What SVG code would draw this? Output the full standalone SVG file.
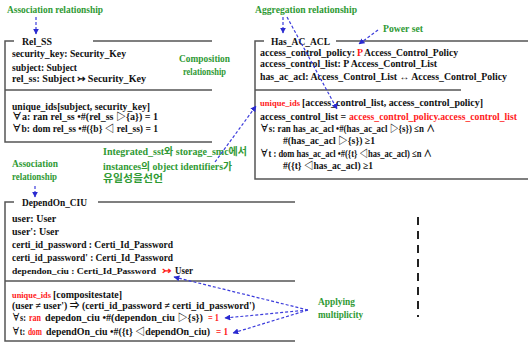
<svg xmlns="http://www.w3.org/2000/svg" width="530" height="346" viewBox="0 0 530 346">
  <style>
    text { font-family: "Liberation Serif", "Times New Roman", "Noto Sans CJK KR", serif; font-weight: bold; font-size: 10px; fill: #111; }
    .title { font-size: 11px; }
    .note { fill: #2f9a34; font-size: 10px; }
    .red { fill: #ff1a1a; }
    .tight { font-size: 9.2px; }
    .frame { stroke: #555; stroke-width: 1.5; fill: none; }
    .link { stroke: #3c3cdc; stroke-width: 1.2; stroke-dasharray: 3 2; fill: none; marker-end: url(#ah); }
  </style>
  <defs>
    <marker id="ah" viewBox="0 0 10 10" refX="9" refY="5" markerWidth="6" markerHeight="6" markerUnits="userSpaceOnUse" orient="auto">
      <path d="M0,0 L10,5 L0,10 z" fill="#2a2ad0"/>
    </marker>
  </defs>
  <rect width="530" height="346" fill="#fff"/>

  <!-- Rel_SS schema -->
  <g id="rel_ss">
    <path class="frame" d="M14,41 H5 V142 H212 M93,41 H212 M5,90 H212"/>
    <text class="title" x="22" y="45" textLength="30" lengthAdjust="spacingAndGlyphs">Rel_SS</text>
    <text x="12" y="57" textLength="114" lengthAdjust="spacingAndGlyphs">security_key: Security_Key</text>
    <text x="12" y="71" textLength="65" lengthAdjust="spacingAndGlyphs">subject: Subject</text>
    <text x="12" y="82" textLength="134" lengthAdjust="spacingAndGlyphs">rel_ss: Subject ↣ Security_Key</text>
    <text x="12" y="110" textLength="138" lengthAdjust="spacingAndGlyphs">unique_ids[subject,  security_key]</text>
    <text x="12" y="120" textLength="146" lengthAdjust="spacingAndGlyphs">∀a: ran rel_ss  •#(rel_ss  ▷{a})  = 1</text>
    <text x="12" y="132" textLength="146" lengthAdjust="spacingAndGlyphs">∀b: dom rel_ss  •#({b}  ◁ rel_ss) = 1</text>
  </g>

  <!-- Has_AC_ACL schema -->
  <g id="has_ac_acl">
    <path class="frame" d="M264,41 H255 V179 H528 M336,41 H528 M255,90 H461"/>
    <text class="title" x="271" y="45" textLength="59" lengthAdjust="spacingAndGlyphs">Has_AC_ACL</text>
    <text x="260" y="56" textLength="95" lengthAdjust="spacingAndGlyphs">access_control_policy:</text>
    <text class="red" x="357" y="56" textLength="6" lengthAdjust="spacingAndGlyphs">P</text>
    <text x="364" y="56" textLength="94" lengthAdjust="spacingAndGlyphs">Access_Control_Policy</text>
    <text x="260" y="67" textLength="177" lengthAdjust="spacingAndGlyphs">access_control_list: P Access_Control_List</text>
    <text x="260" y="80" textLength="247" lengthAdjust="spacingAndGlyphs">has_ac_acl: Access_Control_List ↔ Access_Control_Policy</text>
    <text class="red tight" x="260" y="106" textLength="40" lengthAdjust="spacingAndGlyphs">unique_ids</text>
    <text x="302" y="106" textLength="181" lengthAdjust="spacingAndGlyphs">[access_control_list,  access_control_policy]</text>
    <text x="260" y="120" textLength="86" lengthAdjust="spacingAndGlyphs">access_control_list =</text>
    <text class="red" x="349" y="120" textLength="168" lengthAdjust="spacingAndGlyphs">access_control_policy.access_control_list</text>
    <text x="260" y="132" textLength="175" lengthAdjust="spacingAndGlyphs">∀s: ran has_ac_acl  •#(has_ac_acl  ▷{s}) ≤n  ∧</text>
    <text x="283" y="144" textLength="92" lengthAdjust="spacingAndGlyphs">#(has_ac_acl  ▷{s})  ≥1</text>
    <text x="260" y="157" textLength="172" lengthAdjust="spacingAndGlyphs">∀t : dom has_ac_acl  •#({t} ◁has_ac_acl) ≤n  ∧</text>
    <text x="283" y="169" textLength="90" lengthAdjust="spacingAndGlyphs">#({t} ◁has_ac_acl) ≥1</text>
  </g>

  <!-- DependOn_CIU schema -->
  <g id="dependon_ciu">
    <path class="frame" d="M14,202 H5 V341 H295 M98,202 H295 M5,281 H295"/>
    <text class="title" x="22" y="206" textLength="65" lengthAdjust="spacingAndGlyphs">DependOn_CIU</text>
    <text x="12" y="222">user: User</text>
    <text x="12" y="235">user': User</text>
    <text x="12" y="248" textLength="161" lengthAdjust="spacingAndGlyphs">certi_id_password  : Certi_Id_Password</text>
    <text x="12" y="261" textLength="161" lengthAdjust="spacingAndGlyphs">certi_id_password'  : Certi_Id_Password</text>
    <text class="tight" x="12" y="274" textLength="144" lengthAdjust="spacingAndGlyphs">dependon_ciu  : Certi_Id_Password</text>
    <text class="red" x="162" y="274" font-size="8" textLength="9" lengthAdjust="spacingAndGlyphs">↣</text>
    <text x="175" y="274" textLength="18" lengthAdjust="spacingAndGlyphs">User</text>
    <text class="red tight" x="12" y="298" textLength="39" lengthAdjust="spacingAndGlyphs">unique_ids</text>
    <text x="53" y="298" textLength="69" lengthAdjust="spacingAndGlyphs">[compositestate]</text>
    <text x="12" y="309" textLength="243" lengthAdjust="spacingAndGlyphs">(user ≠ user') ⇒ (certi_id_password  ≠ certi_id_password')</text>
    <text x="12" y="321" textLength="14" lengthAdjust="spacingAndGlyphs">∀s:</text>
    <text class="red" x="29" y="321" textLength="12" lengthAdjust="spacingAndGlyphs">ran</text>
    <text x="45" y="321" textLength="158" lengthAdjust="spacingAndGlyphs">depedon_ciu  •#(dependon_ciu  ▷{s})</text>
    <text class="red" x="208" y="321" textLength="11" lengthAdjust="spacingAndGlyphs">= 1</text>
    <text x="12" y="335" textLength="13" lengthAdjust="spacingAndGlyphs">∀t:</text>
    <text class="red" x="28" y="335" textLength="14" lengthAdjust="spacingAndGlyphs">dom</text>
    <text x="46" y="335" textLength="164" lengthAdjust="spacingAndGlyphs">dependOn_ciu  •#({t}  ◁dependOn_ciu)</text>
    <text class="red" x="216" y="335" textLength="12" lengthAdjust="spacingAndGlyphs">= 1</text>
  </g>

  <!-- annotations -->
  <g id="notes">
    <text class="note" x="7" y="13" textLength="96" lengthAdjust="spacingAndGlyphs">Association relationship</text>
    <text class="note" x="255" y="13" textLength="102" lengthAdjust="spacingAndGlyphs">Aggregation relationship</text>
    <text class="note" x="383" y="32" textLength="40" lengthAdjust="spacingAndGlyphs">Power set</text>
    <text class="note" x="179" y="62" textLength="51" lengthAdjust="spacingAndGlyphs">Composition</text>
    <text class="note" x="183" y="75" textLength="43" lengthAdjust="spacingAndGlyphs">relationship</text>
    <text class="note" x="103" y="155" textLength="144" lengthAdjust="spacingAndGlyphs">Integrated_sst와 storage_smc에서</text>
    <text class="note" x="103" y="170" textLength="129" lengthAdjust="spacingAndGlyphs">instances의 object identifiers가</text>
    <text class="note" x="103" y="182" textLength="60" lengthAdjust="spacingAndGlyphs">유일성을선언</text>
    <text class="note" x="12" y="167" textLength="46" lengthAdjust="spacingAndGlyphs">Association</text>
    <text class="note" x="12" y="180" textLength="45" lengthAdjust="spacingAndGlyphs">relationship</text>
    <text class="note" x="318" y="305" textLength="37" lengthAdjust="spacingAndGlyphs">Applying</text>
    <text class="note" x="318" y="318" textLength="45" lengthAdjust="spacingAndGlyphs">multiplicity</text>
  </g>

  <!-- connectors -->
  <g id="connectors">
    <line class="link" x1="36" y1="17" x2="36" y2="34"/>
    <line class="link" x1="283" y1="17" x2="283" y2="33"/>
    <line class="link" x1="287" y1="17" x2="337" y2="109"/>
    <line class="link" x1="378" y1="30" x2="359" y2="44"/>
    <line class="link" x1="215" y1="162" x2="256" y2="106"/>
    <line class="link" x1="35" y1="186" x2="35" y2="197"/>
    <line class="link" x1="308" y1="310" x2="174" y2="277"/>
    <line class="link" x1="308" y1="310" x2="225" y2="318"/>
    <line class="link" x1="308" y1="310" x2="233" y2="333"/>
    <line x1="418" y1="217" x2="418" y2="317" stroke="#222" stroke-width="2" stroke-dasharray="8 6"/>
  </g>
</svg>
